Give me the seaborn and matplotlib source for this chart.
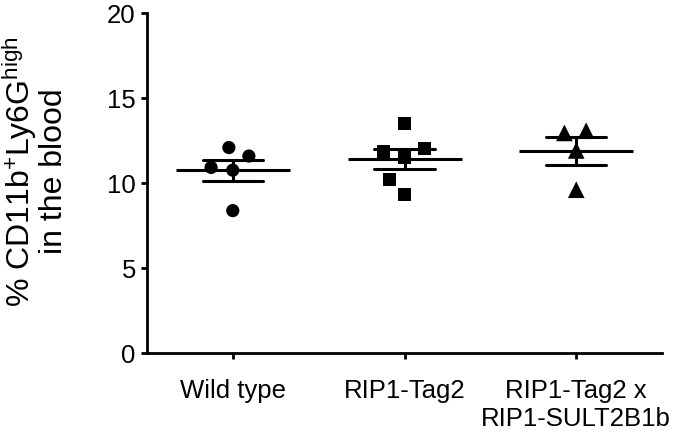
import numpy as np
import pandas as pd
import matplotlib
matplotlib.use("Agg")
import matplotlib.pyplot as plt
import seaborn as sns

# values (% of blood cells)
groups = ["Wild type", "RIP1-Tag2", "RIP1-Tag2 x\nRIP1-SULT2B1b"]
wild_type = [12.1, 11.6, 10.93, 10.77, 8.39]
rip1_tag2 = [13.53, 12.04, 11.87, 11.51, 10.22, 9.34]
rip1_sult = [13.09, 12.96, 11.93, 9.62]
group_markers = ["o", "s", "^"]
y_ticks = [0, 5, 10, 15, 20]

df = pd.concat([
    pd.DataFrame({"group": groups[0], "value": wild_type}),
    pd.DataFrame({"group": groups[1], "value": rip1_tag2}),
    pd.DataFrame({"group": groups[2], "value": rip1_sult}),
], ignore_index=True)

sns.set_style("ticks")
plt.rcParams["font.family"] = ["Liberation Sans", "DejaVu Sans"]
plt.rcParams["mathtext.default"] = "regular"
plt.rcParams["text.color"] = "black"
plt.rcParams["axes.labelcolor"] = "black"

fig = plt.figure(figsize=(6.77, 4.4), dpi=100)
ax = fig.add_axes([0.217, 0.197, 0.761, 0.773])

# swarm layout computed with a wider spacing, then markers shrunk to real size
real_sizes = [9.5, 9.5, 12]
swarm_cols = []
for g, m, s in zip(groups, group_markers, real_sizes):
    sub = df[df["group"] == g]
    n_before = len(ax.collections)
    sns.swarmplot(data=sub, x="group", y="value", order=groups, marker=m,
                  size=15, color="black", linewidth=0, ax=ax)
    for col in ax.collections[n_before:]:
        if len(col.get_offsets()) > 0:
            swarm_cols.append((col, s))

ax.set_xlim(-0.5, 2.5)
ax.set_ylim(0, 20)
fig.canvas.draw()
for col, s in swarm_cols:
    if "draw" in col.__dict__:
        del col.draw
    col.set_sizes([s ** 2] * len(col.get_offsets()))

# mean line with SEM bars
sns.pointplot(data=df, x="group", y="value", order=groups, errorbar="se",
              markers="_", markersize=82, markeredgewidth=2.2, linestyle="none",
              capsize=0.35, color="black", err_kws={"linewidth": 2.2}, ax=ax)

ax.set_xlim(-0.5, 2.5)
ax.set_ylim(0, 20)
ax.set_yticks(y_ticks)
ax.set_xlabel("")
ax.set_ylabel("% CD11b$^{+}$Ly6G$^{high}$\nin the blood", fontsize=23,
              linespacing=1.0, color="black")
ax.yaxis.set_label_coords(-0.152, 0.535)

sns.despine(ax=ax)
for side in ["left", "bottom"]:
    ax.spines[side].set_linewidth(2)
    ax.spines[side].set_color("black")
ax.tick_params(axis="both", width=2, length=4.5, color="black", labelsize=18.5,
               labelcolor="black")
ax.tick_params(axis="x", pad=14)
ax.tick_params(axis="y", pad=3.5)

fig.savefig("out.png", dpi=100, facecolor="white")
